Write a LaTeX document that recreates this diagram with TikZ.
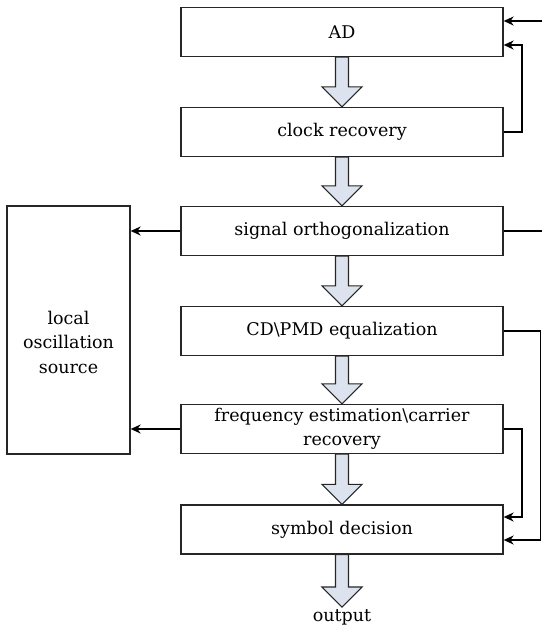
\documentclass[tikz,border=0pt]{standalone}
\usepackage{fontspec}
\setmainfont{DejaVu Serif}
\usetikzlibrary{arrows.meta,calc}
\definecolor{blkfill}{RGB}{220,227,238}
\begin{document}
\begin{tikzpicture}[x=1pt,y=1pt,
  txt/.style={font=\fontsize{17.5}{21}\selectfont},
  box/.style={txt,draw=black!85,line width=1.3pt,minimum width=322pt,minimum height=49pt,inner sep=2pt,align=center},
  blk/.style={draw=black!85,line width=1.1pt,fill=blkfill,line join=miter},
  con/.style={line width=1.9pt,-{Stealth[length=10pt,width=9pt]}},
  lin/.style={line width=1.9pt}]
\useasboundingbox (0,0) rectangle (542,-630);
\node[box] (ad) at (342,-32) {AD};
\node[box] (cr) at (342,-132) {clock recovery};
\node[box] (so) at (342,-231) {signal orthogonalization};
\node[box] (cd) at (342,-331) {CD\textbackslash PMD equalization};
\node[box,font=\fontsize{17.5}{24}\selectfont] (fe) at (342,-429) {frequency estimation\textbackslash carrier\\recovery};
\node[box] (sd) at (342,-529.5) {symbol decision};
\node[box,minimum width=123pt,minimum height=248pt] (lo) at (68.5,-330) {};
\node[txt,align=center,font=\fontsize{17.5}{24.5}\selectfont] (lotext) at ($(lo.center)+(0,-12)$) {local\\oscillation\\source};
\node[txt,inner sep=1pt] (out) at (342,-617) {output};
\newcommand\blkarrow[2]{\draw[blk] let \p1=(#1), \p2=(#2) in (\x1-6.5,\y1) -- (\x1+6.5,\y1) -- (\x1+6.5,\y2+20) -- (\x1+20,\y2+20) -- (\x1,\y2) -- (\x1-20,\y2+20) -- (\x1-6.5,\y2+20) -- cycle;}
\blkarrow{ad.south}{cr.north}
\blkarrow{cr.south}{so.north}
\blkarrow{so.south}{cd.north}
\blkarrow{cd.south}{fe.north}
\blkarrow{fe.south}{sd.north}
\coordinate (outtip) at ($(out.north)+(0,1)$);
\blkarrow{sd.south}{outtip}
% right side
\coordinate (inAD) at (542,-21);
\draw[con] (inAD) -- (ad.east |- inAD);
\coordinate (crR) at (522,-132);
\draw[con] (cr.east) -- (crR) |- ($(ad.east)+(0,-13)$);
\coordinate (soR) at (542,-231);
\draw[lin] (so.east) -- (soR);
\coordinate (cdR) at (540.5,-331);
\draw[con] (cd.east) -- (cdR) |- ($(sd.east)+(0,-10.5)$);
\coordinate (feR) at (522,-429);
\draw[con] (fe.east) -- (feR) |- ($(sd.east)+(0,12.5)$);
% left side
\draw[con] (so.west) -- (lo.east |- so.west);
\draw[con] (fe.west) -- (lo.east |- fe.west);
\end{tikzpicture}
\end{document}
